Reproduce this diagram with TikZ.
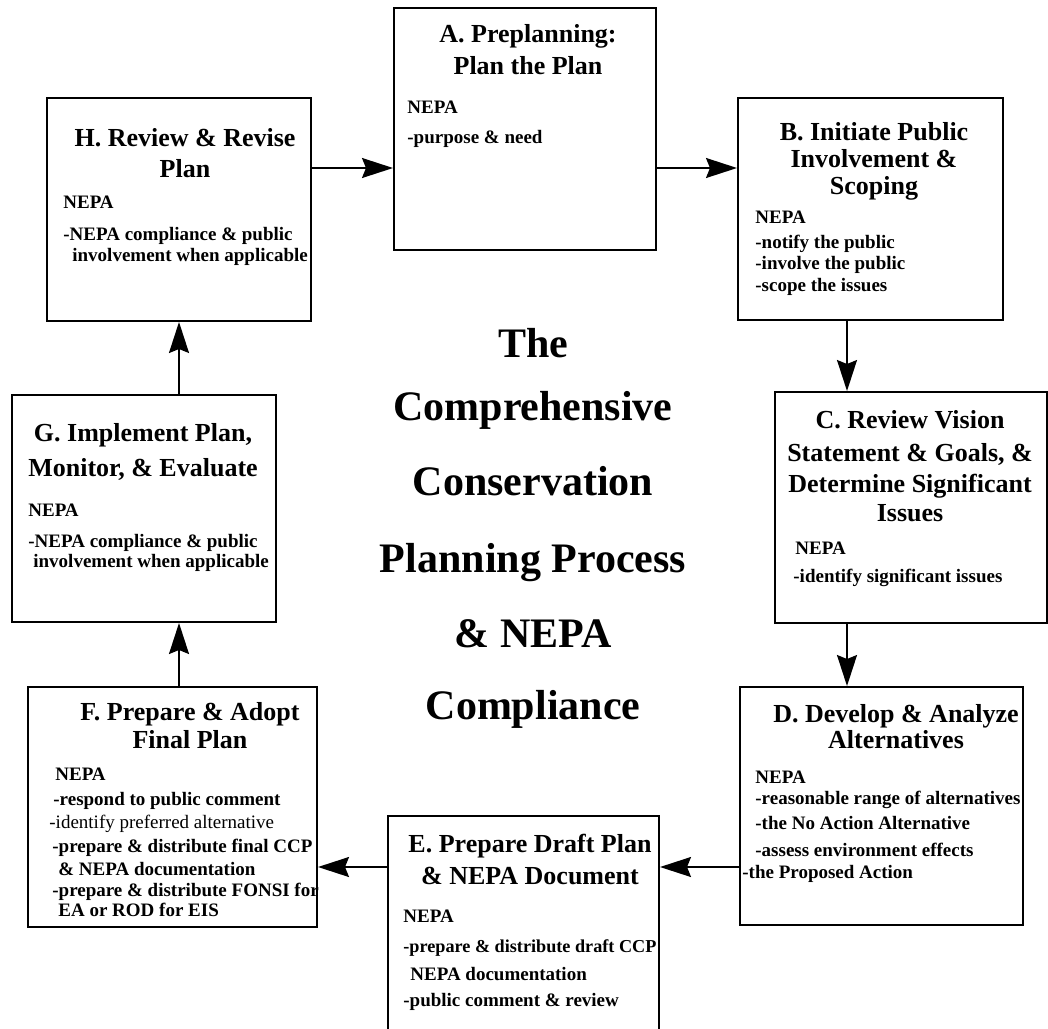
\documentclass[tikz,border=0pt]{standalone}
\usepackage{fontspec}
\setmainfont{Liberation Serif}
\usetikzlibrary{arrows.meta,fit}

\tikzset{
    box/.style={draw, line width=1pt, inner sep=0pt},
    head/.style={anchor=north, align=center, inner sep=0pt,
        font=\fontsize{13}{15}\selectfont\bfseries},
    body/.style={anchor=north west, align=left, inner sep=0pt,
        font=\fontsize{9.5}{11}\selectfont\bfseries},
    flow/.style={-{Stealth[length=15.5pt,width=10pt,inset=2pt]}, line width=0.9pt}
}

\begin{document}
\begin{tikzpicture}[x=0.5pt,y=-0.5pt]
    \path[use as bounding box, clip] (0,0) rectangle (1048,1028);

    % the eight steps
    \node (plan)   [box, fit={(394,8) (656,250)}] {};
    \node (scope)  [box, fit={(738,98) (1003,320)}] {};
    \node (vision) [box, fit={(775,392) (1047,623)}] {};
    \node (alts)   [box, fit={(740,687) (1023,925)}] {};
    \node (draft)  [box, fit={(388,816) (659,1045)}] {};
    \node (final)  [box, fit={(28,687) (317,927)}] {};
    \node (impl)   [box, fit={(12,395) (276,622)}] {};
    \node (revise) [box, fit={(47,98) (311,321)}] {};

    % texts
    \node[head] at (528,24) {A. Preplanning:\\[1pt] Plan the Plan};
    \node[body] at (407,101) {NEPA\\[4pt] -purpose \& need};

    \node[head] at (874,122) {B. Initiate Public\\[-1.5pt] Involvement \&\\[-1.5pt] Scoping};
    \node[body] at (755,211) {NEPA\\[1.5pt] -notify the public\\[-0.5pt] -involve the public\\ -scope the issues};

    \node[head] at (910,410) {C. Review Vision\\[1.5pt] Statement \& Goals, \&\\[0.5pt] Determine Significant\\[-0.5pt] Issues};
    \node[body] at (795,542) {NEPA\\[3pt] \hspace*{-1pt}-identify significant issues};

    \node[head] at (896,704) {D. Develop \& Analyze\\[-2pt] Alternatives};
    \node[body] at (755,771) {NEPA\\[-0.5pt] -reasonable range of alternatives\\[1.5pt]
        -the No Action Alternative\\[2.5pt] -assess environment effects\\
        \hspace*{-6.5pt}-the Proposed Action};

    \node[head] at (530,834) {E. Prepare Draft Plan\\[1pt] \& NEPA Document};
    \node[body] at (403,910) {NEPA\\[4pt] {\fontsize{9.1}{11}\selectfont -prepare \& distribute draft CCP}\\[3pt]
        \hspace*{3.5pt}NEPA documentation\\[2pt] -public comment \& review};

    \node[head] at (190,702) {F. Prepare \& Adopt\\[-1pt] Final Plan};
    \node[body] at (55,768) {NEPA\\[1.5pt] \hspace*{-1pt}-respond to public comment\\[0.5pt]
        \hspace*{-3pt}{\mdseries -identify preferred alternative}\\[1pt]
        \hspace*{-1.5pt}-prepare \& distribute final CCP\\[0.5pt]
        \hspace*{1.5pt}\& NEPA documentation\\[-0.5pt]
        \hspace*{-1.5pt}-prepare \& distribute FONSI for\\[-1pt]
        \hspace*{1.5pt}EA or ROD for EIS};

    \node[head] at (143,423) {G. Implement Plan,\\[2.5pt] Monitor, \& Evaluate};
    \node[body] at (28,504) {NEPA\\[4.5pt] -NEPA compliance \& public\\[-1pt]
        \hspace*{2.5pt}involvement when applicable};

    \node[head] at (185,128) {H. Review \& Revise\\[0.5pt] Plan};
    \node[body] at (63,196) {NEPA\\[5pt] -NEPA compliance \& public\\[-0.5pt]
        \hspace*{4.5pt}involvement when applicable};

    % centre title
    \node (title) [anchor=north, align=center, inner sep=0pt,
        font=\fontsize{21}{36}\selectfont\bfseries] at (533,328)
        {The\\[-4.5pt] Comprehensive\\[1.5pt] Conservation\\[2.5pt]
         Planning Process\\[1.5pt] \& NEPA\\ Compliance};

    % arrows round the cycle
    \coordinate (toprow) at (0,168);
    \coordinate (botrow) at (0,867);
    \coordinate (rcol) at (847,0);
    \coordinate (lcol) at (179,0);

    \draw[flow] (revise.east |- toprow) -- (plan.west |- toprow);
    \draw[flow] (plan.east |- toprow) -- (scope.west |- toprow);
    \draw[flow] (scope.south -| rcol) -- (vision.north -| rcol);
    \draw[flow] (vision.south -| rcol) -- (alts.north -| rcol);
    \draw[flow] (alts.west |- botrow) -- (draft.east |- botrow);
    \draw[flow] (draft.west |- botrow) -- (final.east |- botrow);
    \draw[flow] (final.north -| lcol) -- (impl.south -| lcol);
    \draw[flow] (impl.north -| lcol) -- (revise.south -| lcol);
\end{tikzpicture}
\end{document}
